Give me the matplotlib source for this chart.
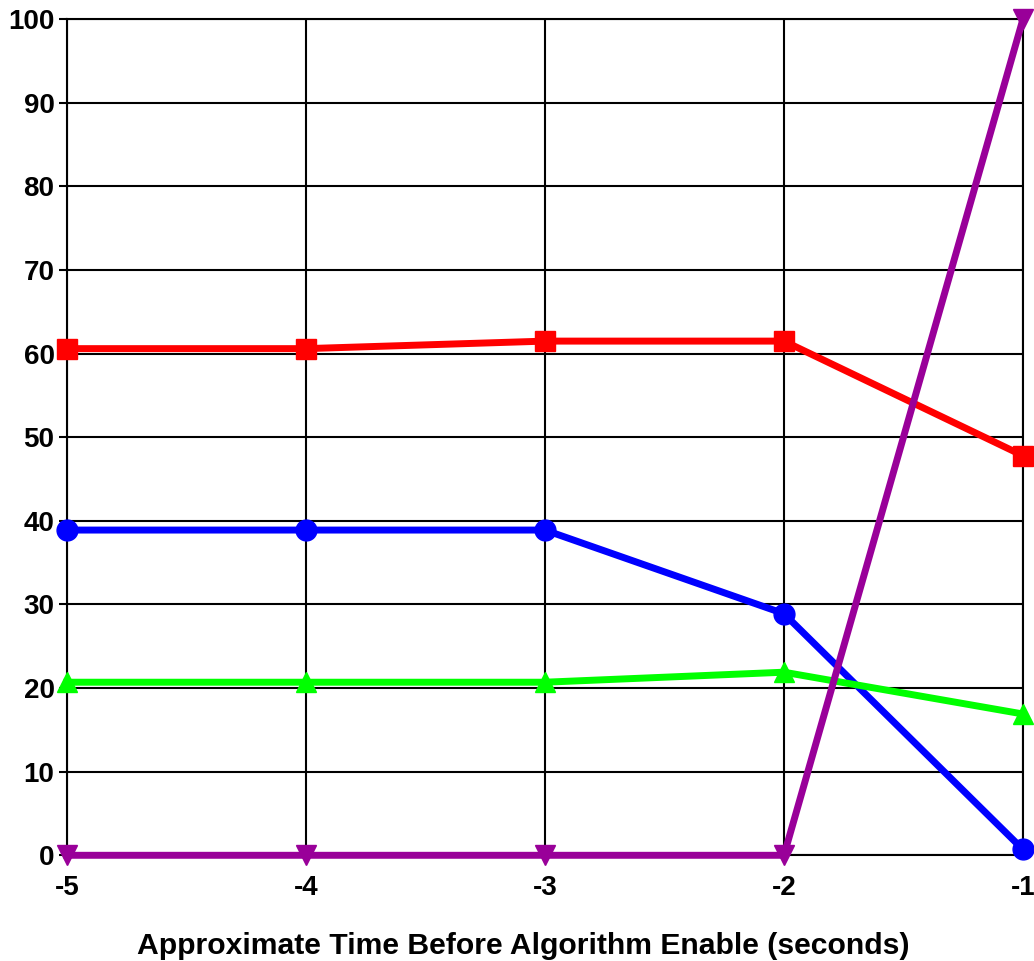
import matplotlib
matplotlib.use("Agg")
import matplotlib.pyplot as plt

x = [-5, -4, -3, -2, -1]
xticklabels = ["-5", "-4", "-3", "-2", "-1"]
red = [60.6, 60.6, 61.5, 61.5, 47.8]
blue = [38.9, 38.9, 38.9, 28.9, 0.7]
green = [20.7, 20.7, 20.7, 21.9, 16.9]
purple = [0, 0, 0, 0, 100]
xlabel = "Approximate Time Before Algorithm Enable (seconds)"

plt.rcParams['font.family'] = ['Liberation Sans', 'DejaVu Sans']
fig = plt.figure(figsize=(10.34, 9.61), dpi=100)
ax = fig.add_axes([0.0648, 0.110, 0.9245, 0.870])

lw = 5
ms = 15
ax.plot(x, red, color='#FF0000', lw=lw, marker='s', ms=ms, clip_on=False, zorder=3)
ax.plot(x, blue, color='#0000FF', lw=lw, marker='o', ms=ms, clip_on=False, zorder=3)
ax.plot(x, green, color='#00FF00', lw=lw, marker='^', ms=ms, clip_on=False, zorder=3)
ax.plot(x, purple, color='#990099', lw=lw, marker='v', ms=ms, clip_on=False, zorder=3)

ax.set_xlim(-5, -1)
ax.set_ylim(0, 100)
ax.set_xticks(x)
ax.set_xticklabels(xticklabels)
ax.set_yticks(range(0, 101, 10))
ax.grid(True, color='black', lw=1.5)
ax.set_axisbelow(True)
for s in ax.spines.values():
    s.set_color('black')
    s.set_linewidth(1.5)
ax.tick_params(axis='y', length=6, width=1.5, labelsize=20, pad=3)
ax.tick_params(axis='x', length=0, labelsize=20, pad=14)
for lab in ax.get_xticklabels() + ax.get_yticklabels():
    lab.set_fontweight('bold')
ax.set_xlabel(xlabel, fontsize=21.7, fontweight='bold')
ax.xaxis.set_label_coords(0.477, -0.108)
ax.xaxis.label.set_va('center')

fig.savefig("out.png", dpi=100)
